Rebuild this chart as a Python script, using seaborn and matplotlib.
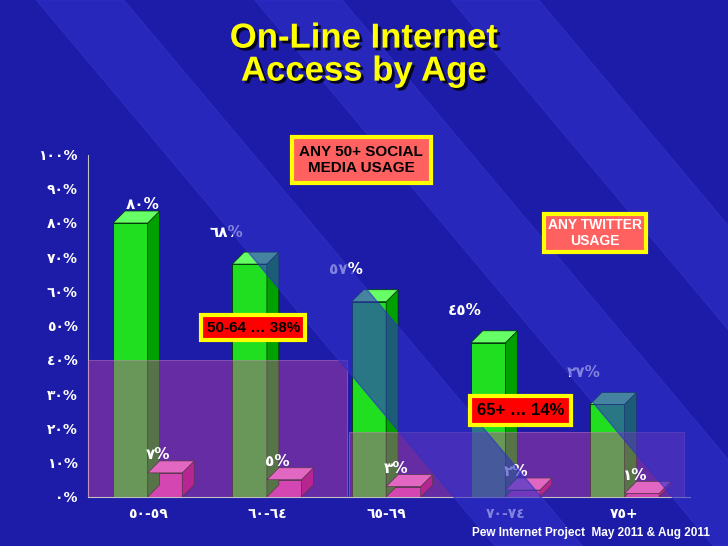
import numpy as np
import pandas as pd
import matplotlib
matplotlib.use("Agg")
import matplotlib.pyplot as plt
import seaborn as sns
from matplotlib.patches import Polygon, Rectangle
import matplotlib.patheffects as pe

# data
ages = ["٥٠-٥٩", "٦٠-٦٤", "٦٥-٦٩", "٧٠-٧٤", "٧٥+"]
internet = [80, 68, 57, 45, 27]
twitter = [7, 5, 3, 2, 1]
internet_lbl = ["٨٠%", "٦٨%", "٥٧%", "٤٥%", "٢٧%"]
twitter_lbl = ["٧%", "٥%", "٣%", "٢%", "١%"]
ticks = list(range(0, 101, 10))
tick_lbl = ["٠%", "١٠%", "٢٠%", "٣٠%", "٤٠%", "٥٠%", "٦٠%", "٧٠%", "٨٠%", "٩٠%", "١٠٠%"]
social_groups = ["50-64 … 38%", "65+ … 14%"]
social_level = [40, 19]          # drawn height of translucent bands
social_span = [(-0.5, 1.67), (1.69, 4.5)]

df = pd.DataFrame({"age": ages * 2,
                   "value": internet + twitter,
                   "kind": ["internet"] * 5 + ["twitter"] * 5})

sns.set_style("white")
plt.rcParams["font.family"] = ["Liberation Sans", "DejaVu Sans"]

fig = plt.figure(figsize=(7.28, 5.46), dpi=100)
fig.patch.set_facecolor("#1c1ca8")
# diagonal stripes
for x0 in [0.05, 0.35, 0.62]:
    fig.patches.append(Polygon([[x0, 1], [x0 + 0.12, 1], [x0 + 0.75, 0], [x0 + 0.63, 0]],
                               closed=True, transform=fig.transFigure,
                               color="#3030c8", alpha=0.6, zorder=0))

ax = fig.add_axes([0.121, 0.09, 0.827, 0.627])
ax.set_facecolor("none")
sns.barplot(data=df, x="age", y="value", hue="kind", ax=ax, width=0.58,
            palette={"internet": "#00ff00", "twitter": "#ff33cc"},
            edgecolor="#003300", linewidth=0.6, legend=False, zorder=3)

dx, dy = 0.1, 3.5
side = {"internet": "#00a000", "twitter": "#b0108a"}
top = {"internet": "#66ff66", "twitter": "#ff88e0"}
for i, p in enumerate(ax.patches[:10]):
    k = "internet" if i < 5 else "twitter"
    x, w, h = p.get_x(), p.get_width(), p.get_height()
    ax.add_patch(Polygon([[x + w, 0], [x + w + dx, dy], [x + w + dx, h + dy], [x + w, h]],
                         facecolor=side[k], edgecolor="#003300", lw=0.5, zorder=3))
    ax.add_patch(Polygon([[x, h], [x + dx, h + dy], [x + w + dx, h + dy], [x + w, h]],
                         facecolor=top[k], edgecolor="#003300", lw=0.5, zorder=3))
    if i < 5:
        ax.text(x - 0.05 + 0.3 * (i == 0), h + 8 - 4 * (i == 0), internet_lbl[i], color="white",
                fontsize=11, fontweight="bold", ha="center", zorder=5, family="DejaVu Sans")
    else:
        ax.text(x + w * 0.3, h + 4, twitter_lbl[i - 5], color="white", fontsize=11,
                fontweight="bold", ha="center", zorder=5, family="DejaVu Sans")

for (a, b), lvl in zip(social_span, social_level):
    ax.add_patch(Rectangle((a, 0), b - a, lvl, facecolor="#c040a0", alpha=0.45,
                           edgecolor="#d080c0", lw=0.8, zorder=4))

ax.set_xlim(-0.5, 4.55)
ax.set_ylim(0, 100)
ax.set_yticks(ticks)
ax.set_yticklabels(tick_lbl, family="DejaVu Sans")
ax.tick_params(colors="white", labelsize=10, length=4, direction="out")
for t in ax.get_xticklabels() + ax.get_yticklabels():
    t.set_fontweight("bold")
    t.set_family("DejaVu Sans")
ax.set_xlabel("")
ax.set_ylabel("")
for s in ["top", "right"]:
    ax.spines[s].set_visible(False)
for s in ["left", "bottom"]:
    ax.spines[s].set_color("#c0c0c0")

shadow = [pe.withSimplePatchShadow(offset=(2, -2), shadow_rgbFace="black", alpha=0.8)]
fig.text(0.5, 0.9, "On-Line Internet\nAccess by Age", color="#ffff00", fontsize=25,
         fontweight="bold", ha="center", va="center", linespacing=1.0, path_effects=shadow)

fig.text(0.496, 0.707, "ANY 50+ SOCIAL\nMEDIA USAGE", ha="center",
         va="center", fontsize=11, fontweight="bold", color="black",
         bbox=dict(boxstyle="square,pad=0.5", facecolor="#ff6060", edgecolor="#ffff00", lw=3))
fig.text(0.817, 0.573, "ANY TWITTER\nUSAGE", ha="center", va="center",
         fontsize=10, fontweight="bold", color="white",
         bbox=dict(boxstyle="square,pad=0.3", facecolor="#ff6060", edgecolor="#ffff00", lw=3))
fig.text(0.348, 0.4, social_groups[0], ha="center", va="center", fontsize=11,
         fontweight="bold", color="black",
         bbox=dict(boxstyle="square,pad=0.35", facecolor="#ff0000", edgecolor="#ffff00", lw=3))
fig.text(0.715, 0.248, social_groups[1], ha="center", va="center", fontsize=12,
         fontweight="bold", color="black",
         bbox=dict(boxstyle="square,pad=0.4", facecolor="#ff0000", edgecolor="#ffff00", lw=3))
fig.text(0.975, 0.018, "Pew Internet Project  May 2011 & Aug 2011", ha="right",
         fontsize=8.5, fontweight="bold", color="white")

fig.savefig("out.png", dpi=100, facecolor=fig.get_facecolor())
